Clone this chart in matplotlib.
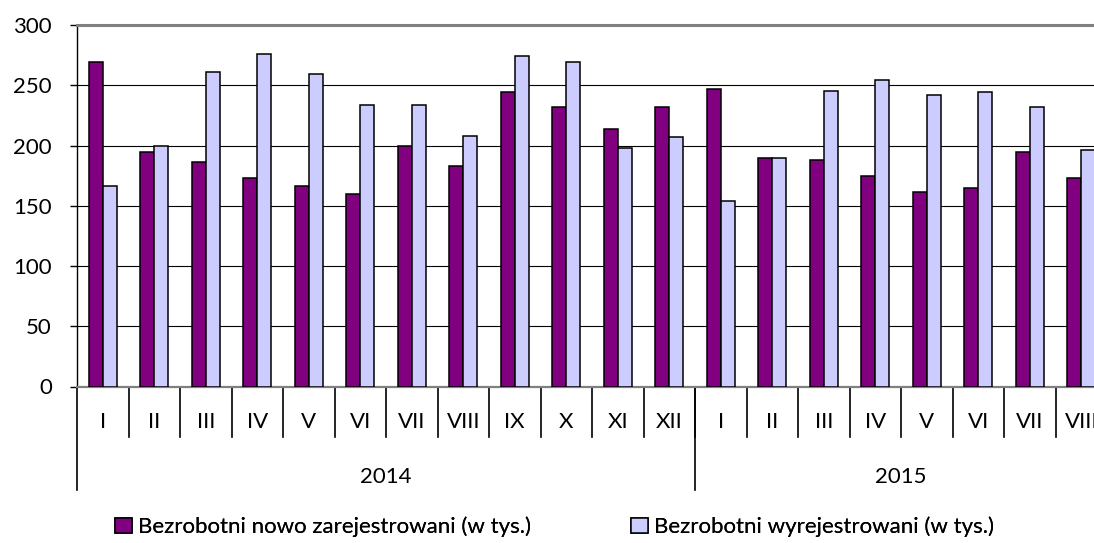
import matplotlib

matplotlib.use("Agg")
import matplotlib.pyplot as plt
import matplotlib.transforms as mtransforms
import numpy as np

plt.rcParams["font.family"] = ["Lato", "DejaVu Sans"]

months = ["I", "II", "III", "IV", "V", "VI", "VII", "VIII", "IX", "X", "XI", "XII",
          "I", "II", "III", "IV", "V", "VI", "VII", "VIII"]
years = ["2014", "2015"]
year_lengths = [12, 8]

newly_registered = [269, 195, 186, 173, 166, 160, 200, 183, 244, 232, 214, 232,
                    247, 190, 188, 175, 161, 165, 195, 173]
deregistered = [166, 200, 261, 276, 259, 234, 234, 208, 274, 269, 198, 207,
                154, 190, 245, 254, 242, 244, 232, 196]

label_new = "Bezrobotni nowo zarejestrowani (w tys.)"
label_out = "Bezrobotni wyrejestrowani (w tys.)"

W, H = 1094, 543
fig = plt.figure(figsize=(W / 100, H / 100), dpi=100)
ax = fig.add_axes([77 / W, (H - 386.5) / H, 1030 / W, 361.5 / H])

x = np.arange(len(months))
bw = 0.272
b1 = ax.bar(x - bw / 2, newly_registered, bw, color="#800080",
            edgecolor="black", linewidth=1.1, label=label_new, zorder=3)
b2 = ax.bar(x + bw / 2, deregistered, bw, color="#CCCCFF",
            edgecolor="black", linewidth=1.1, label=label_out, zorder=3)

ax.set_xlim(-0.5, len(months) - 0.5)
ax.set_ylim(0, 300)
ax.set_yticks(range(0, 301, 50))
ax.tick_params(axis="y", direction="out", length=5, width=1, pad=13,
               labelsize=16, colors="black")
ax.set_xticks([])
ax.grid(axis="y", color="black", linewidth=0.8, zorder=1)

ax.spines["top"].set_color("#808080")
ax.spines["top"].set_linewidth(2.2)
ax.spines["bottom"].set_color("#808080")
ax.spines["bottom"].set_linewidth(1.6)
ax.spines["left"].set_color("black")
ax.spines["left"].set_linewidth(1.0)
ax.spines["right"].set_visible(False)

# multi-level category axis
trans = mtransforms.blended_transform_factory(ax.transData, ax.transAxes)
month_depth = -(437 - 386.5) / 361.5
year_depth = -(490 - 386.5) / 361.5
for i in range(len(months) - 1):
    ax.plot([i + 0.5, i + 0.5], [0, month_depth], color="black", lw=1.2,
            transform=trans, clip_on=False)
for i, m in enumerate(months):
    ax.text(i, -(422 - 386.5) / 361.5, m, ha="center", va="center",
            fontsize=16, transform=trans)

start = 0
for yr, n in zip(years, year_lengths):
    ax.plot([start - 0.5, start - 0.5], [0, year_depth], color="black", lw=1.2,
            transform=trans, clip_on=False)
    ax.text(start + (n - 1) / 2, -(477 - 386.5) / 361.5, yr, ha="center",
            va="center", fontsize=16, transform=trans)
    start += n

# two legend entries placed separately, like the original
for handle, x0 in [(b1, 115), (b2, 631)]:
    leg = fig.legend(handles=[handle], loc="center left",
                     bbox_to_anchor=(x0 / W, (H - 527) / H), frameon=False,
                     fontsize=16, handlelength=0.75, handleheight=0.7,
                     handletextpad=0.3, borderpad=0, borderaxespad=0)
    fig.add_artist(leg)

fig.savefig("out.png", dpi=100)
